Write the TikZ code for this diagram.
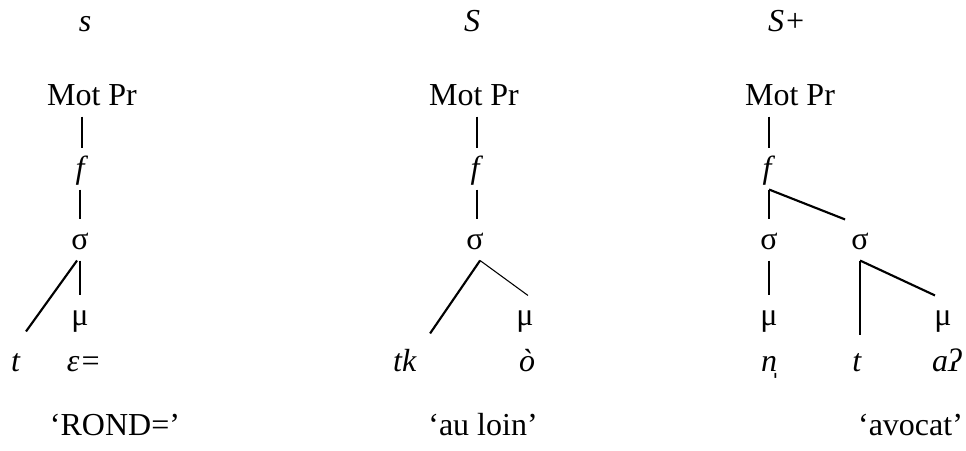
\documentclass[tikz,border=0pt]{standalone}
\usepackage{fontspec}
\setmainfont{Liberation Serif}
\pgfdeclarelayer{bg}
\pgfsetlayers{bg,main}
\tikzset{
    every node/.style={inner sep=0mm, anchor=base, text height=11.25pt, text depth=3.75pt, font=\fontsize{12}{14}\selectfont}
}

\begin{document}
\begin{tikzpicture}
        \useasboundingbox (0cm, 0cm) rectangle (12.731700cm, 5.944000cm);
        \node (v0) at (1.120300cm, 5.522400cm) {\textit{s}};
        \node (v1) at (1.212600cm, 4.547100cm) {Mot Pr};
        \node (v2) at (1.080800cm, 3.585000cm) {\textit{f}};
        \node (v3) at (1.054400cm, 2.649200cm) {σ};
        \node (v4) at (1.054400cm, 1.647500cm) {μ};
        \node (v5) at (0.210900cm, 1.041200cm) {\textit{t}};
        \node (v6) at (1.107100cm, 1.041200cm) {\textit{ε=}};
        \node (v7) at (1.515700cm, 0.197700cm) {‘ROND=’};
        \node (v8) at (6.221000cm, 5.522400cm) {\textit{S}};
        \node (v9) at (6.247300cm, 4.547100cm) {Mot Pr};
        \node (v10) at (6.286900cm, 3.585000cm) {\textit{f}};
        \node (v11) at (6.260500cm, 2.649200cm) {σ};
        \node (v12) at (6.919500cm, 1.647500cm) {μ};
        \node (v13) at (5.337900cm, 1.041200cm) {\textit{tk}};
        \node (v14) at (6.945900cm, 1.041200cm) {\textit{ò}};
        \node (v15) at (6.365900cm, 0.197700cm) {‘au loin’};
        \node (v16) at (10.372700cm, 5.522400cm) {\textit{S+}};
        \node (v17) at (10.412200cm, 4.547100cm) {Mot Pr};
        \node (v18) at (10.135400cm, 3.585000cm) {\textit{f}};
        \node (v19) at (10.135400cm, 2.649200cm) {σ};
        \node (v20) at (11.334800cm, 2.649200cm) {σ};
        \node (v21) at (10.135400cm, 1.647500cm) {μ};
        \node (v22) at (12.428700cm, 1.647500cm) {μ};
        \node (v23) at (10.135400cm, 1.041200cm) {\textit{n̩}};
        \node (v24) at (11.295300cm, 1.041200cm) {\textit{t}};
        \node (v25) at (12.481500cm, 1.041200cm) {\textit{aʔ}};
        \node (v26) at (12.000400cm, 0.197700cm) {‘avocat’};
        \begin{pgfonlayer}{bg}
                \draw (v2.north |- v1.south) edge [thick] (v2.north);
                \draw (v3.north |- v2.south) edge [thick] (v3.north);
                \draw (v3.south) edge [thick] (v4.north);
                \draw ([xshift=-1.1pt]v3.south) edge [thick] ([shift={(3.75pt,3.75pt)}]v5.north);
                \draw (v10.north |- v9.south) edge [thick] (v10.north);
                \draw (v10.south) edge [thick] (v10.south |- v11.north);
                \draw ([xshift=1.9pt]v11.south) edge [thick] ([shift={(9.4pt,3pt)}]v13.north);
                \draw ([xshift=1.9pt]v11.south) edge [thin] ([xshift=1.1pt]v12.north);
                \draw (v18.north |- v17.south) edge [thick] (v18.north);
                \draw (v18.south) edge [thick] (v19.north);
                \draw (v18.south) edge [thick] ([xshift=-5.6pt]v20.north);
                \draw (v19.south) edge [thick] (v21.north);
                \draw (v20.south) edge [thick, shorten >=2.25pt] (v20.south |- v24.north);
                \draw (v20.south) edge [thick] ([xshift=-3pt]v22.north);
        \end{pgfonlayer}
\end{tikzpicture}
\end{document}
